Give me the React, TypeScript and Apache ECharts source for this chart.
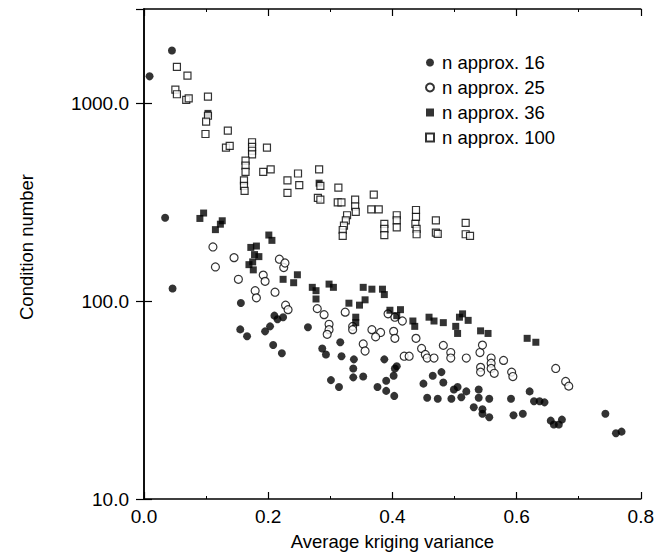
import React, { useEffect, useRef } from "react";
import * as echarts from "echarts";

const xTickLabels = ["0.0", "0.2", "0.4", "0.6", "0.8"];
const yTickLabels = ["10.0", "100.0", "1000.0"];
const seriesNames = ["n approx. 16", "n approx. 25", "n approx. 36", "n approx. 100"];

const n16: [number, number][] = [
  [0.009, 1370], [0.045, 1850], [0.034, 264], [0.046, 116],
  [0.156, 98], [0.155, 72], [0.166, 66.5],
  [0.195, 70.4], [0.203, 74.6], [0.21, 84.5], [0.215, 81], [0.224, 83],
  [0.208, 60], [0.222, 54.5], [0.264, 73.8], [0.287, 57.7], [0.293, 53.8],
  [0.316, 62], [0.318, 52.7], [0.301, 39.9], [0.314, 36.8],
  [0.338, 50.8], [0.337, 45.7], [0.337, 41.2], [0.353, 41.6],
  [0.376, 36.8], [0.387, 50.8], [0.39, 39.6], [0.402, 42.0], [0.404, 45.7], [0.407, 46.9],
  [0.39, 35.2], [0.403, 33.2],
  [0.45, 38.3], [0.465, 42], [0.479, 43.8], [0.482, 38.8], [0.499, 35.8], [0.505, 36.8], [0.519, 35.0], [0.539, 35.8],
  [0.621, 35],
  [0.456, 32.5], [0.473, 32.1], [0.495, 32.1], [0.511, 32.7],
  [0.539, 32.5], [0.531, 29.1], [0.545, 28.4], [0.545, 27.0], [0.556, 25.9], [0.556, 32.1],
  [0.591, 32.1], [0.595, 26.5], [0.61, 27.0],
  [0.628, 31.2], [0.637, 31.2], [0.645, 30.8],
  [0.655, 24.9], [0.66, 23.8], [0.668, 23.8], [0.673, 25.2],
  [0.743, 27.0], [0.76, 21.5], [0.769, 21.9],
];

const n25: [number, number][] = [
  [0.111, 188], [0.145, 166],
  [0.115, 149], [0.152, 129], [0.179, 113], [0.181, 104], [0.192, 135.5], [0.195, 126], [0.211, 111],
  [0.218, 163], [0.225, 148], [0.227, 156],
  [0.228, 95.5], [0.232, 90.6], [0.279, 91.7], [0.29, 85.5],
  [0.298, 76.4], [0.298, 71.8], [0.295, 68], [0.324, 88], [0.336, 74.6], [0.336, 71.8],
  [0.367, 71.8], [0.381, 69.5], [0.373, 66], [0.353, 60.8], [0.356, 56],
  [0.393, 86.3], [0.404, 83], [0.416, 79.4], [0.402, 70.4], [0.404, 64.9],
  [0.419, 52.7], [0.427, 52.7], [0.438, 64.9],
  [0.447, 57.7], [0.453, 53.8], [0.456, 51.6], [0.467, 51.6], [0.482, 59.8], [0.494, 55], [0.494, 51.6],
  [0.519, 51.6], [0.541, 55], [0.545, 60], [0.542, 46.3], [0.542, 43.8],
  [0.559, 51.6], [0.559, 48.6], [0.559, 45.7], [0.564, 43.2], [0.579, 50.2], [0.592, 43.8], [0.594, 41.6],
  [0.663, 45.7], [0.679, 39.3], [0.684, 37.2],
];

const n36: [number, number][] = [
  [0.09, 262], [0.096, 279], [0.115, 230], [0.123, 245], [0.126, 255],
  [0.103, 890], [0.282, 395],
  [0.201, 216], [0.206, 203], [0.172, 187], [0.181, 190], [0.178, 172], [0.175, 158],
  [0.169, 153], [0.176, 144], [0.185, 168],
  [0.224, 129], [0.241, 124], [0.247, 136],
  [0.271, 117.5], [0.277, 113], [0.277, 102.6], [0.298, 122], [0.305, 117.5],
  [0.33, 97.7], [0.341, 83], [0.341, 77.9], [0.347, 95.5], [0.356, 101.6],
  [0.353, 117.5], [0.367, 115], [0.384, 115], [0.387, 108],
  [0.396, 90], [0.413, 90.6], [0.407, 84.5], [0.433, 79.4], [0.436, 74.6],
  [0.459, 83], [0.467, 79.4], [0.482, 77.9],
  [0.502, 74.6], [0.508, 83], [0.513, 86.3], [0.522, 80], [0.505, 68.7],
  [0.542, 70.8], [0.554, 68.7], [0.617, 64.9], [0.631, 62],
];

const n100: [number, number][] = [
  [0.053, 1530], [0.07, 1380], [0.0505, 1175], [0.053, 1112], [0.068, 1042], [0.072, 1060],
  [0.103, 1082], [0.103, 866], [0.1, 808], [0.135, 728], [0.099, 700],
  [0.132, 598], [0.138, 610], [0.174, 636], [0.174, 603], [0.174, 576], [0.174, 552], [0.198, 598],
  [0.1635, 514], [0.1635, 485], [0.1635, 451], [0.161, 408], [0.161, 383], [0.162, 361],
  [0.192, 451], [0.204, 464], [0.231, 408], [0.231, 353], [0.248, 442], [0.25, 386],
  [0.282, 464], [0.284, 383], [0.28, 333], [0.284, 326], [0.313, 375], [0.312, 316], [0.318, 316],
  [0.34, 326], [0.34, 301], [0.341, 283], [0.37, 346], [0.366, 291], [0.378, 291],
  [0.327, 272], [0.325, 256], [0.322, 241], [0.32, 229], [0.32, 214],
  [0.387, 246], [0.387, 232], [0.387, 216], [0.407, 272], [0.407, 256], [0.407, 236],
  [0.438, 289], [0.438, 267], [0.437, 246], [0.439, 232], [0.439, 218],
  [0.47, 256], [0.47, 222], [0.473, 219], [0.518, 249], [0.518, 218], [0.525, 214],
];

const FONT = "'Liberation Sans', Arial, Helvetica, sans-serif";

export default function App() {
  const ref = useRef<HTMLDivElement>(null);
  useEffect(() => {
    if (!ref.current) return;
    const chart = echarts.init(ref.current, null, { renderer: "svg" });
    const fmtX = (v: number) => {
      const s = v.toFixed(1);
      return xTickLabels.includes(s) ? s : "";
    };
    const fmtY = (v: number) => {
      const s = v.toFixed(1);
      return yTickLabels.includes(s) ? s : "";
    };
    const axisLine = { show: true, lineStyle: { color: "#000", width: 1.5 } };
    const xCommon = {
      type: "value" as const,
      min: 0,
      max: 0.8,
      interval: 0.2,
      axisLine,
      axisTick: { show: true, inside: true, length: 7, lineStyle: { color: "#000", width: 1.2 } },
      minorTick: { show: true, splitNumber: 2, length: 3, lineStyle: { color: "#000", width: 1 } },
      splitLine: { show: false },
    };
    const yCommon = {
      type: "log" as const,
      logBase: 10,
      min: 10,
      max: 3000,
      axisLine,
      axisTick: { show: true, inside: true, length: 8, lineStyle: { color: "#000", width: 1.2 } },
      splitLine: { show: false },
    };
    const open = { color: "#fff", borderColor: "#000", borderWidth: 1.2 };
    const filled = { color: "#000", borderColor: "#000", borderWidth: 0 };
    chart.setOption({
      animation: false,
      backgroundColor: "#fff",
      textStyle: { fontFamily: FONT },
      grid: { left: 144, right: 16, top: 9, bottom: 59, show: false },
      legend: {
        orient: "vertical",
        left: 425,
        top: 53,
        padding: 0,
        itemWidth: 8,
        itemHeight: 8,
        itemGap: 6,
        textStyle: { fontSize: 18.5, color: "#000", fontFamily: FONT, lineHeight: 19, padding: [0, 0, 0, 3] },
        data: seriesNames,
      },
      xAxis: [
        {
          ...xCommon,
          position: "bottom",
          axisLabel: { show: true, fontSize: 19, color: "#000", margin: 8, formatter: fmtX },
          name: "Average kriging variance",
          nameLocation: "middle",
          nameGap: 33,
          nameTextStyle: { fontSize: 18.5, color: "#000", fontFamily: FONT },
        },
        { ...xCommon, position: "top", axisLabel: { show: false } },
      ],
      yAxis: [
        {
          ...yCommon,
          position: "left",
          axisLabel: { show: true, fontSize: 19, color: "#000", margin: 15, formatter: fmtY, showMaxLabel: false },
          name: "Condition number",
          nameLocation: "middle",
          nameGap: 108,
          nameTextStyle: { fontSize: 18.5, color: "#000", fontFamily: FONT, padding: [0, 0, 0, 14] },
        },
        { ...yCommon, position: "right", axisLabel: { show: false } },
      ],
      series: [
        { name: seriesNames[0], type: "scatter", symbol: "circle", symbolSize: 8, itemStyle: filled, data: n16 },
        { name: seriesNames[1], type: "scatter", symbol: "circle", symbolSize: 8, itemStyle: open, data: n25 },
        { name: seriesNames[2], type: "scatter", symbol: "rect", symbolSize: 7, itemStyle: filled, data: n36 },
        { name: seriesNames[3], type: "scatter", symbol: "rect", symbolSize: 7, itemStyle: open, data: n100 },
      ],
    });
    return () => chart.dispose();
  }, []);
  return <div ref={ref} style={{ position: "absolute", left: 0, top: 0, width: 657, height: 558 }} />;
}
